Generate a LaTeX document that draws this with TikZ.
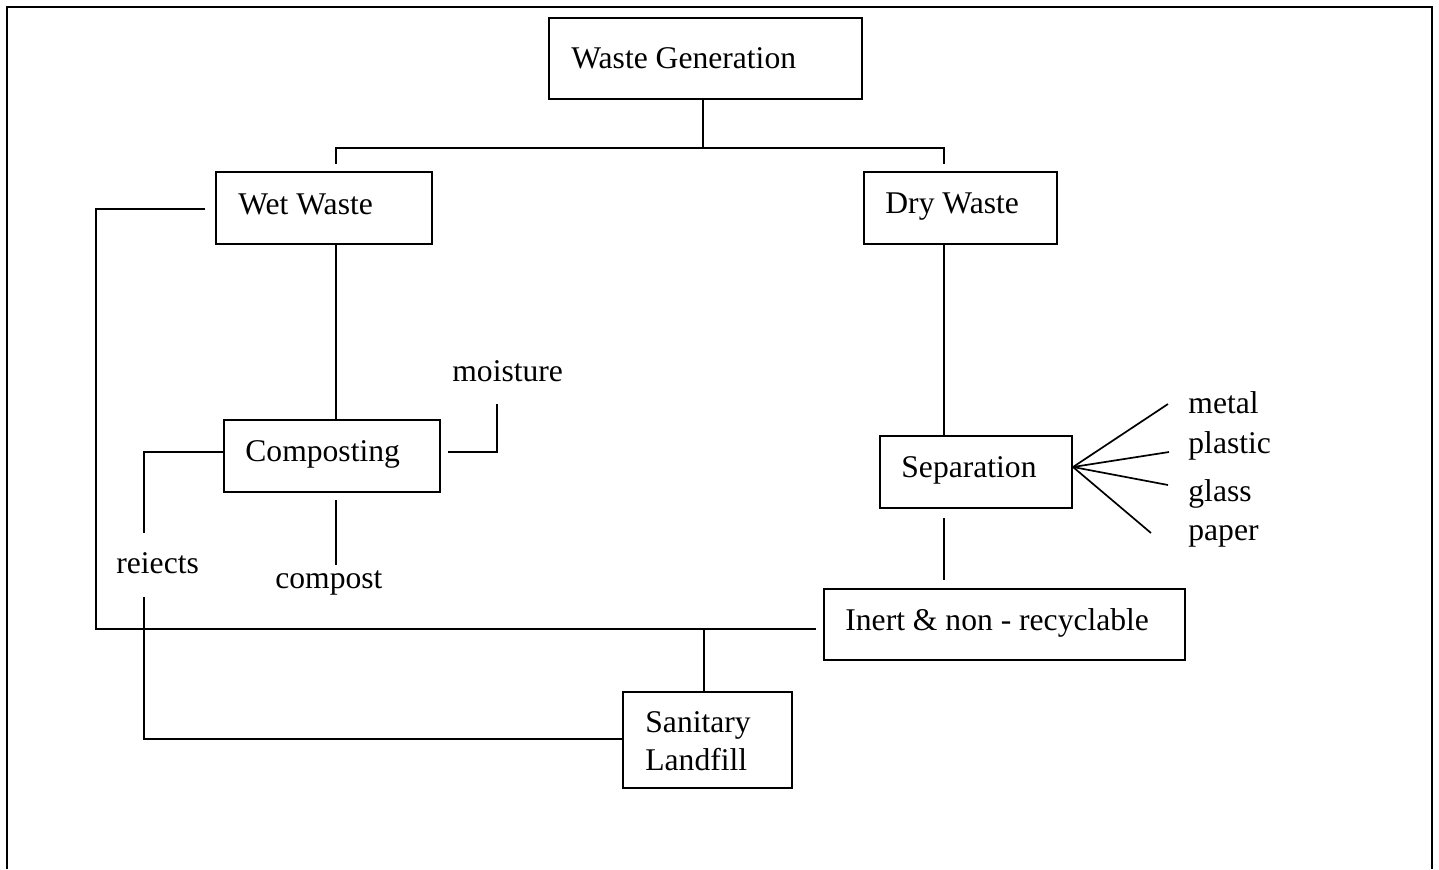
\documentclass[tikz,border=0pt]{standalone}
\usepackage{fontspec}
\setmainfont{Liberation Serif}
\begin{document}
\begin{tikzpicture}[x=0.5pt,y=-0.5pt,
  box/.style={draw,line width=0.85pt,rectangle,inner sep=0pt},
  conn/.style={line width=0.85pt},
  txt/.style={anchor=base west,inner sep=0pt,font=\fontsize{15.8}{19}\selectfont}]
\useasboundingbox (0,0) rectangle (1439,869);
% frame (open at bottom)
\draw[line width=1.4pt] (7,869) -- (7,7) -- (1432,7) -- (1432,869);
% boxes
\node[box,minimum width=156.5pt,minimum height=40.5pt] (wg) at (705.5,58.5) {};
\node[box,minimum width=108pt,minimum height=36pt] (wet) at (324,208) {};
\node[box,minimum width=96.5pt,minimum height=36pt] (dry) at (960.5,208) {};
\node[box,minimum width=108pt,minimum height=36pt] (comp) at (332,456) {};
\node[box,minimum width=96pt,minimum height=36pt] (sep) at (976,472) {};
\node[box,minimum width=180.5pt,minimum height=35.5pt] (inert) at (1004.5,624.5) {};
\node[box,minimum width=84.5pt,minimum height=48pt] (sl) at (707.5,740) {};
% texts
\node[txt] (twg) at (571,68) {Waste Generation};
\node[txt] (twet) at (238,214) {Wet Waste};
\node[txt] (tdry) at (885,213) {Dry Waste};
\node[txt] (tmoist) at (452,381) {moisture};
\node[txt] (tcomp) at (245,461) {Composting};
\node[txt] (tsep) at (901,477) {Separation};
\node[txt] (tmetal) at (1188,413) {metal};
\node[txt] (tplastic) at (1188,453) {plastic};
\node[txt] (tglass) at (1188,501) {glass};
\node[txt] (tpaper) at (1188,540) {paper};
\node[txt] (trej) at (116,573) {reiects};
\node[txt] (tcompost) at (275,588) {compost};
\node[txt] (tinert) at (845,630) {Inert \& non - recyclable};
\node[txt] (tsan) at (645,732) {Sanitary};
\node[txt] (tland) at (645,770) {Landfill};
% coordinates
\coordinate (j0) at (703,148);
\coordinate (jl) at (336,164);
\coordinate (jr) at (944,164);
\coordinate (wl) at (205,209);
\coordinate (ll) at (816,629);
\coordinate (rj1) at (144,533);
\coordinate (rj2) at (144,597);
\coordinate (mo) at (448,452);
\coordinate (mo2) at (497,404);
\coordinate (cp1) at (336,500);
\coordinate (cp2) at (336,565);
\coordinate (sp1) at (944,518);
\coordinate (sp2) at (944,580);
\coordinate (fan) at (1073,467);
\coordinate (fm) at (1168,404);
\coordinate (fp) at (1169,452);
\coordinate (fg) at (1168,485);
\coordinate (fpa) at (1151,533);
% connectors
\draw[conn] (703,0 |- wg.south) -- (j0);
\draw[conn] (jl) -- (336,148) -- (944,148) -- (jr);
\draw[conn] (336,0 |- wet.south) -- (336,0 |- comp.north);
\draw[conn] (944,0 |- dry.south) -- (944,0 |- sep.north);
\draw[conn] (wl) -- (96,209) -- (96,629) -- (ll);
\draw[conn] (704,629) -- (704,0 |- sl.north);
\draw[conn] (comp.west |- 0,452) -- (144,452) -- (rj1);
\draw[conn] (rj2) -- (144,739) -- (sl.west |- 0,739);
\draw[conn] (mo) -- (497,452) -- (mo2);
\draw[conn] (cp1) -- (cp2);
\draw[conn] (sp1) -- (sp2);
\draw[conn] (fan) -- (fm);
\draw[conn] (fan) -- (fp);
\draw[conn] (fan) -- (fg);
\draw[conn] (fan) -- (fpa);
\end{tikzpicture}
\end{document}
